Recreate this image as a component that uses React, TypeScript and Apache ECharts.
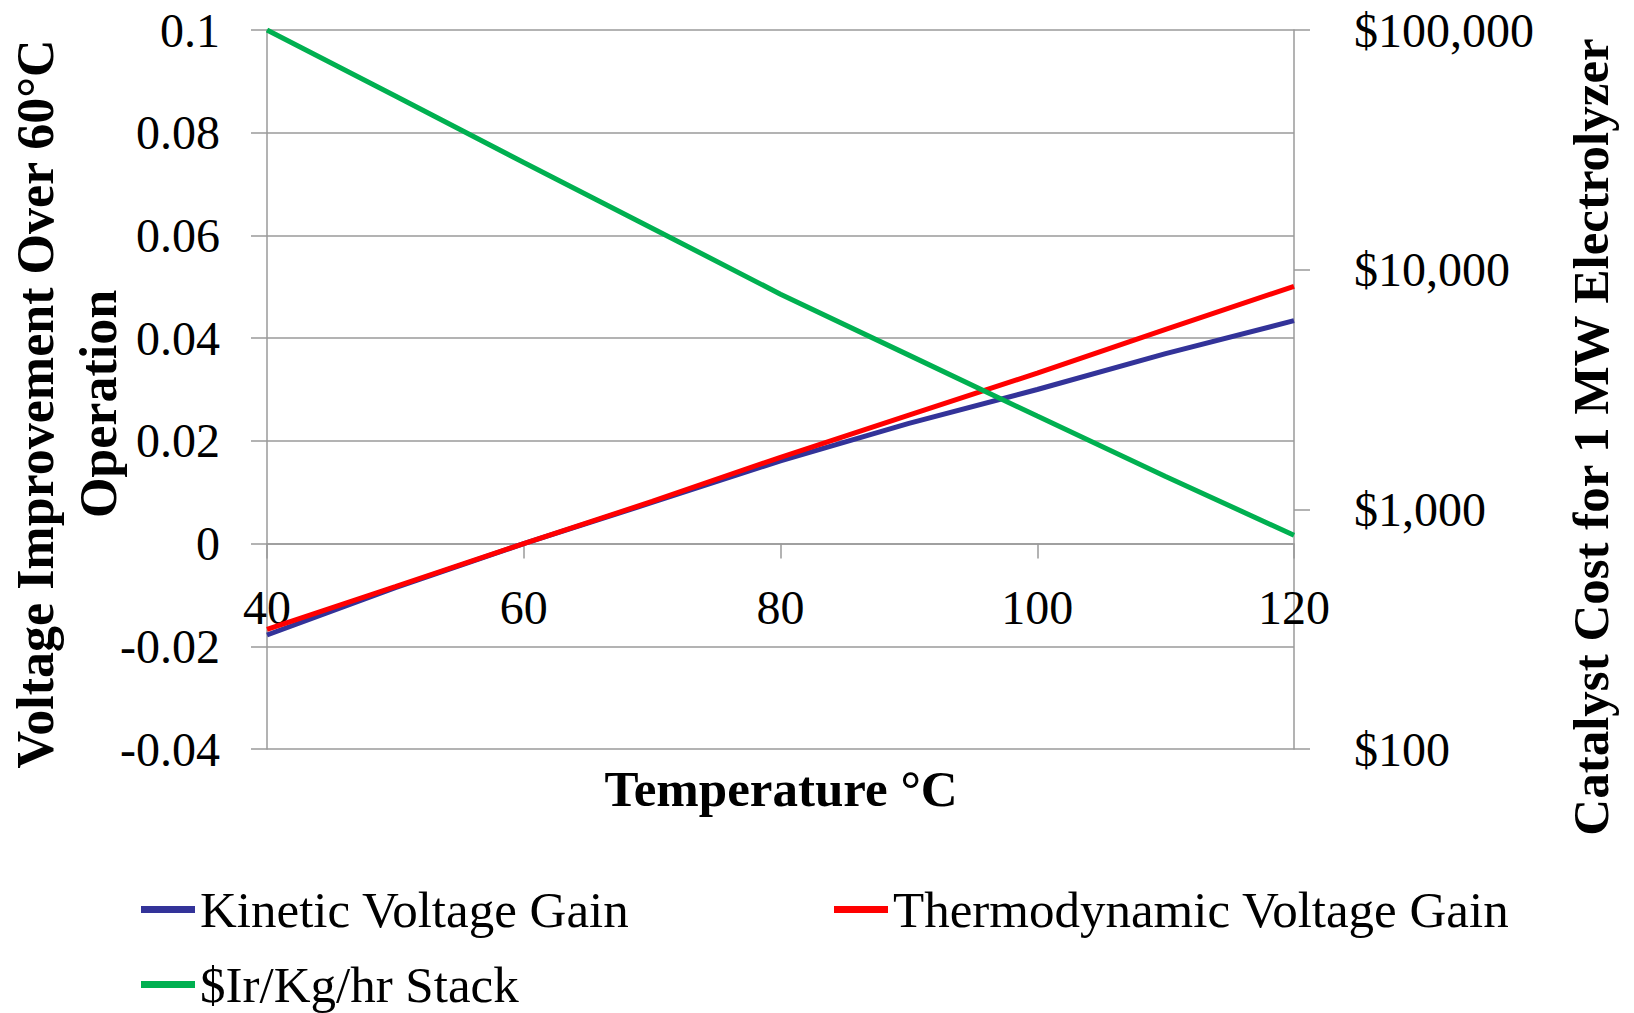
import React, { useEffect, useRef } from "react";
import * as echarts from "echarts";

const temps = [40, 50, 60, 70, 80, 90, 100, 110, 120];
const kineticGain = [-0.0178, -0.0086, 0, 0.008, 0.0161, 0.0234, 0.03, 0.037, 0.0434];
const thermoGain = [-0.0167, -0.0084, 0, 0.0082, 0.0168, 0.025, 0.0332, 0.0417, 0.0501];
const irCost = [100000, 53000, 28000, 14900, 7900, 4400, 2450, 1370, 780];

const seriesNames = ["Kinetic Voltage Gain", "Thermodynamic Voltage Gain", "$Ir/Kg/hr Stack"];
const seriesColors = ["#333399", "#FF0000", "#00B050"];

const leftTitle = "Voltage Improvement Over 60°C\nOperation";
const rightTitle = "Catalyst Cost for 1 MW Electrolyzer";
const xTitle = "Temperature °C";

const FONT = "'Liberation Serif', 'Times New Roman', serif";
const GRAY = "#9a9a9a";

export default function App() {
  const ref = useRef<HTMLDivElement>(null);

  useEffect(() => {
    document.body.style.margin = "0";
    const chart = echarts.init(ref.current!, undefined, { renderer: "svg" });
    const pair = (ys: number[]) => temps.map((t, i) => [t, ys[i]]);
    const legendBase = {
      orient: "horizontal",
      icon: "rect",
      itemWidth: 54,
      itemHeight: 7,
      textStyle: { fontFamily: FONT, fontSize: 51, color: "#000" },
      padding: 0,
    };
    chart.setOption({
      animation: false,
      backgroundColor: "#fff",
      grid: { left: 267, top: 30, right: 340, bottom: 264, containLabel: false },
      legend: [
        { ...legendBase, left: 141, top: 884, data: [seriesNames[0]] },
        { ...legendBase, left: 834, top: 884, data: [seriesNames[1]] },
        { ...legendBase, left: 141, top: 959, data: [seriesNames[2]] },
      ],
      xAxis: {
        type: "value",
        min: 40,
        max: 120,
        interval: 20,
        axisLine: { show: true, onZero: true, onZeroAxisIndex: 0, lineStyle: { color: GRAY, width: 1.5 } },
        axisTick: { show: true, length: 15, lineStyle: { color: GRAY, width: 1.5 } },
        axisLabel: { fontFamily: FONT, fontSize: 48, color: "#000", margin: -166 },
        splitLine: { show: false },
      },
      yAxis: [
        {
          type: "value",
          min: -0.04,
          max: 0.1,
          interval: 0.02,
          position: "left",
          axisLine: { show: true, lineStyle: { color: GRAY, width: 1.5 } },
          axisTick: { show: true, length: 16, lineStyle: { color: GRAY, width: 1.5 } },
          axisLabel: {
            fontFamily: FONT,
            fontSize: 48,
            color: "#000",
            margin: 47,
            formatter: (v: number) => String(Number(v.toFixed(2))),
          },
          splitLine: { show: true, lineStyle: { color: GRAY, width: 1.5 } },
        },
        {
          type: "log",
          logBase: 10,
          min: 100,
          max: 100000,
          position: "right",
          axisLine: { show: true, lineStyle: { color: GRAY, width: 1.5 } },
          axisTick: { show: true, length: 16, lineStyle: { color: GRAY, width: 1.5 } },
          axisLabel: {
            fontFamily: FONT,
            fontSize: 48,
            color: "#000",
            margin: 60,
            formatter: (v: number) => "$" + Math.round(v).toLocaleString("en-US"),
          },
          splitLine: { show: false },
        },
      ],
      graphic: [
        {
          type: "text",
          x: 67,
          y: 404,
          rotation: Math.PI / 2,
          style: {
            text: leftTitle,
            fontFamily: FONT,
            fontSize: 52,
            fontWeight: "bold",
            lineHeight: 63,
            fill: "#000",
            textAlign: "center",
            textVerticalAlign: "middle",
          },
        },
        {
          type: "text",
          x: 1591,
          y: 437,
          rotation: Math.PI / 2,
          style: {
            text: rightTitle,
            fontFamily: FONT,
            fontSize: 51,
            fontWeight: "bold",
            fill: "#000",
            textAlign: "center",
            textVerticalAlign: "middle",
          },
        },
        {
          type: "text",
          x: 781,
          y: 789,
          style: {
            text: xTitle,
            fontFamily: FONT,
            fontSize: 51,
            fontWeight: "bold",
            fill: "#000",
            textAlign: "center",
            textVerticalAlign: "middle",
          },
        },
      ],
      series: [
        {
          name: seriesNames[0],
          type: "line",
          yAxisIndex: 0,
          data: pair(kineticGain),
          symbol: "none",
          lineStyle: { color: seriesColors[0], width: 5 },
          itemStyle: { color: seriesColors[0] },
        },
        {
          name: seriesNames[1],
          type: "line",
          yAxisIndex: 0,
          data: pair(thermoGain),
          symbol: "none",
          lineStyle: { color: seriesColors[1], width: 5 },
          itemStyle: { color: seriesColors[1] },
        },
        {
          name: seriesNames[2],
          type: "line",
          yAxisIndex: 1,
          data: pair(irCost),
          symbol: "none",
          lineStyle: { color: seriesColors[2], width: 5 },
          itemStyle: { color: seriesColors[2] },
        },
      ],
    });
    return () => chart.dispose();
  }, []);

  return <div ref={ref} style={{ width: 1634, height: 1013 }} />;
}
